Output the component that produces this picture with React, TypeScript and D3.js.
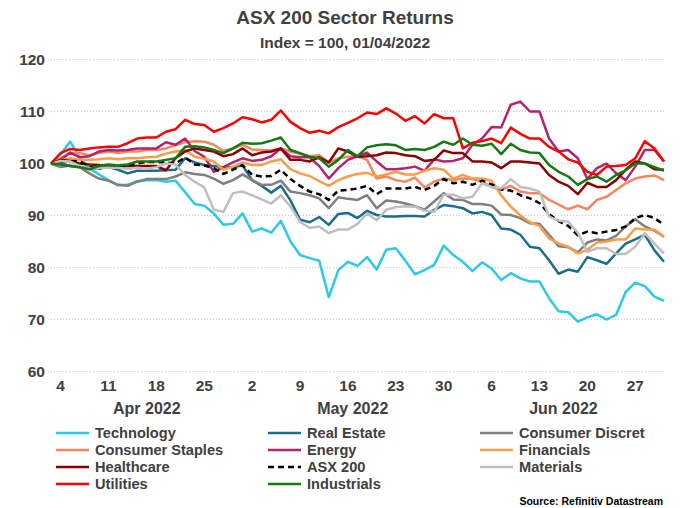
import React from "react";
import * as d3 from "d3";

const W = 691;
const H = 508;

// weekday categories 1 Apr 2022 - 30 Jun 2022
const startDate = new Date(2022, 3, 1);
const endDate = new Date(2022, 6, 1);
const dates: Date[] = d3.timeDays(startDate, endDate).filter((d) => d.getDay() !== 0 && d.getDay() !== 6);

const yTicks = [60, 70, 80, 90, 100, 110, 120];
const monthLabels = ["Apr 2022", "May 2022", "Jun 2022"];

const technology = [100, 101.8, 104.2, 101.2, 99.1, 97.9, 96.8, 95.8, 95.9, 96.6, 96.8, 96.8, 96.5, 96.7, 94.5, 92.2, 91.9, 90.4, 88.2, 88.4, 90.4, 86.9, 87.5, 86.7, 89.0, 85.0, 82.4, 81.8, 81.3, 74.3, 79.5, 81.1, 80.3, 82.0, 79.6, 83.4, 83.7, 81.3, 78.7, 79.5, 80.5, 84.2, 82.4, 81.1, 79.3, 81.0, 79.8, 77.6, 78.9, 77.9, 77.3, 77.3, 74.1, 71.6, 71.4, 69.6, 70.4, 71.0, 70.0, 70.9, 75.3, 77.1, 76.4, 74.4, 73.6];
const realEstate = [100, 100.1, 99.5, 99.3, 99.1, 99.1, 99.3, 98.8, 98.1, 98.6, 98.6, 98.6, 98.7, 98.8, 101.0, 100.2, 99.7, 99.5, 99.3, 99.3, 99.6, 96.8, 95.7, 94.4, 95.7, 92.9, 89.2, 88.7, 89.7, 88.2, 90.3, 90.5, 89.5, 90.9, 90.1, 89.8, 89.8, 89.9, 89.9, 89.8, 91.1, 92.0, 91.8, 91.4, 90.4, 90.7, 90.1, 87.5, 87.3, 86.3, 84.0, 83.7, 81.4, 78.8, 79.6, 79.2, 82.0, 81.4, 80.7, 82.7, 84.6, 85.4, 86.3, 83.3, 81.1];
const consumerDiscret = [100, 99.3, 99.6, 99.3, 98.1, 97.1, 96.7, 95.9, 95.7, 96.5, 97.0, 97.0, 97.0, 97.5, 98.3, 98.0, 97.8, 97.1, 96.1, 96.8, 97.9, 96.8, 95.9, 95.9, 96.7, 94.6, 94.3, 93.9, 93.3, 91.4, 93.5, 93.2, 93.0, 93.9, 91.4, 92.9, 92.7, 92.3, 91.8, 91.1, 92.7, 94.3, 93.1, 93.0, 92.2, 92.2, 91.9, 90.2, 90.1, 89.5, 88.5, 88.4, 86.3, 84.1, 83.9, 82.9, 84.8, 85.4, 85.2, 86.1, 87.9, 89.3, 87.9, 87.1, 85.9];
const consumerStaples = [100, 101.0, 102.0, 102.0, 101.6, 102.0, 102.3, 102.0, 102.3, 102.3, 102.6, 102.6, 102.9, 103.5, 104.1, 104.3, 104.2, 103.6, 102.4, 102.9, 103.6, 102.7, 102.6, 102.5, 102.9, 102.3, 101.8, 101.4, 101.6, 100.2, 101.0, 101.3, 101.4, 100.7, 97.1, 97.5, 96.8, 96.5, 97.3, 95.4, 96.5, 97.1, 96.8, 97.1, 97.0, 96.5, 95.5, 94.9, 95.7, 94.6, 94.3, 94.3, 93.0, 92.1, 91.2, 91.9, 91.2, 93.0, 93.6, 94.9, 96.2, 97.1, 97.5, 97.7, 96.8];
const energy = [100, 100.7, 102.1, 101.2, 101.4, 102.3, 102.6, 102.5, 102.6, 102.9, 102.9, 102.9, 104.1, 103.6, 104.8, 102.4, 101.3, 98.4, 99.3, 100.2, 101.0, 100.5, 100.7, 101.4, 102.9, 101.4, 101.2, 101.2, 99.5, 97.1, 99.1, 100.7, 101.4, 102.1, 100.4, 98.9, 98.9, 99.1, 99.4, 98.6, 100.8, 100.4, 100.5, 101.0, 103.6, 104.8, 107.0, 106.9, 111.3, 111.9, 110.0, 110.0, 104.8, 102.3, 102.6, 101.0, 97.0, 99.1, 100.0, 98.1, 96.8, 99.4, 102.6, 102.6, 100.4];
const financials = [100, 100.7, 101.0, 100.7, 100.7, 100.8, 101.0, 100.8, 101.0, 101.0, 101.2, 101.3, 101.9, 102.3, 102.6, 101.3, 100.9, 100.4, 98.8, 99.4, 100.2, 99.7, 99.7, 100.4, 100.8, 98.9, 98.1, 97.6, 96.6, 95.7, 96.8, 97.5, 98.0, 98.2, 97.5, 97.9, 98.4, 97.9, 97.9, 98.6, 99.1, 98.8, 97.1, 97.8, 97.1, 97.1, 96.7, 93.9, 91.7, 90.0, 88.7, 88.0, 85.6, 84.6, 84.0, 82.7, 83.4, 84.8, 85.0, 85.4, 85.4, 87.5, 87.3, 87.3, 85.9];
const healthcare = [100, 100.7, 100.5, 100.0, 99.8, 99.7, 99.4, 99.3, 99.5, 99.5, 99.5, 99.5, 98.7, 101.0, 102.3, 102.9, 102.6, 102.3, 101.4, 101.8, 102.9, 101.6, 102.1, 102.3, 102.9, 100.7, 100.7, 100.4, 101.2, 100.2, 102.9, 102.3, 101.3, 101.4, 101.6, 102.1, 102.0, 101.6, 101.4, 100.5, 100.7, 102.5, 102.0, 102.0, 100.4, 100.4, 100.2, 99.1, 100.4, 100.4, 100.2, 100.0, 97.8, 96.5, 95.7, 94.1, 96.3, 95.5, 95.5, 96.8, 98.8, 100.4, 100.0, 98.9, 98.8];
const asx200 = [100, 100.4, 100.5, 100.4, 99.4, 99.0, 99.4, 99.2, 99.6, 100.0, 100.3, 100.3, 100.2, 100.0, 101.2, 99.8, 99.6, 99.1, 98.0, 98.8, 99.7, 97.8, 97.5, 97.6, 98.8, 97.0, 95.7, 94.6, 94.1, 93.0, 94.8, 94.9, 95.2, 95.7, 94.1, 95.2, 95.2, 95.2, 95.5, 94.9, 95.7, 97.0, 96.2, 96.5, 95.9, 96.7, 96.0, 95.0, 94.8, 93.9, 93.3, 92.4, 90.3, 88.9, 88.0, 86.2, 86.9, 86.6, 86.9, 87.2, 87.9, 89.5, 90.1, 89.5, 88.2];
const materials = [100, 100.5, 100.4, 99.5, 99.1, 99.2, 99.2, 99.2, 99.0, 99.2, 99.0, 99.3, 100.0, 99.8, 97.8, 96.5, 95.4, 91.1, 90.7, 94.3, 94.6, 93.9, 93.1, 92.3, 93.9, 91.7, 88.8, 87.6, 87.9, 86.6, 87.3, 87.3, 88.4, 90.4, 89.1, 91.1, 91.6, 91.8, 91.7, 90.9, 90.7, 94.0, 94.0, 93.3, 93.6, 96.2, 95.5, 95.2, 97.0, 95.5, 95.2, 94.6, 89.8, 89.0, 88.8, 86.7, 83.0, 83.7, 83.7, 82.6, 82.6, 84.0, 86.6, 84.6, 82.7];
const utilities = [100, 102.0, 102.8, 102.6, 102.9, 103.1, 103.2, 103.2, 103.9, 104.8, 105.0, 105.0, 106.1, 106.6, 108.4, 107.6, 107.4, 106.1, 106.8, 107.7, 108.9, 108.5, 107.9, 108.4, 110.2, 108.0, 106.8, 105.9, 106.3, 105.8, 107.0, 107.8, 108.7, 109.8, 109.5, 110.6, 109.6, 108.2, 109.1, 107.7, 109.5, 108.7, 108.7, 102.9, 104.0, 104.3, 104.8, 103.9, 106.9, 105.7, 104.8, 104.8, 103.2, 102.3, 100.8, 100.2, 98.4, 97.8, 99.4, 99.5, 99.7, 101.0, 104.3, 102.9, 100.4];
const industrials = [100, 99.8, 99.5, 99.3, 98.9, 99.5, 99.8, 99.6, 99.8, 100.4, 100.4, 100.4, 100.7, 101.0, 103.2, 103.3, 103.1, 102.6, 102.0, 102.9, 104.0, 103.8, 103.9, 104.4, 105.0, 102.6, 102.0, 101.3, 101.0, 99.4, 100.7, 102.6, 101.4, 103.1, 103.5, 103.7, 103.5, 102.6, 102.8, 102.6, 103.2, 104.2, 103.6, 104.8, 103.6, 103.4, 103.8, 101.8, 103.8, 102.6, 102.1, 102.0, 99.7, 98.4, 97.5, 95.9, 97.0, 97.5, 96.5, 97.8, 98.7, 100.0, 100.0, 99.3, 98.6];

const seriesNames = ["Technology", "Real Estate", "Consumer Discret", "Consumer Staples", "Energy", "Financials", "Healthcare", "ASX 200", "Materials", "Utilities", "Industrials"];
const seriesValues = [technology, realEstate, consumerDiscret, consumerStaples, energy, financials, healthcare, asx200, materials, utilities, industrials];
const seriesColors = ["#2CC9E8", "#1A6E8C", "#7F7F7F", "#F7855F", "#B3246E", "#FA9D47", "#8B0000", "#000000", "#BFBFBF", "#FF0000", "#127A12"];

const FONT = "'Liberation Sans', Arial, sans-serif";
const TXT = "#404040";

export default function App() {
  const x = d3.scalePoint<number>().domain(dates.map((_, i) => i)).range([51, 664]);
  const y = d3.scaleLinear().domain([60, 120]).range([371.5, 59.5]);
  const line = d3
    .line<number>()
    .x((_, i) => x(i) as number)
    .y((v) => y(v));

  const mondays = dates.map((d, i) => ({ d, i })).filter((o) => o.d.getDay() === 1);
  const months = [3, 4, 5].map((m, k) => {
    const idx = dates.map((d, i) => ({ d, i })).filter((o) => o.d.getMonth() === m);
    const a = x(idx[0].i) as number;
    const b = x(idx[idx.length - 1].i) as number;
    return { label: monthLabels[k], cx: (a + b) / 2 };
  });

  const legendCols = [56, 268, 480];
  const legendRows = [433, 450, 467, 484];

  return (
    <svg width={W} height={H} style={{ position: "absolute", left: 0, top: 0, background: "#fff" }} fontFamily={FONT}>
      <rect width={W} height={H} fill="#fff" />
      <text x={345} y={24} textAnchor="middle" fontSize={19} fontWeight="bold" fill={TXT}>
        ASX 200 Sector Returns
      </text>
      <text x={345} y={48} textAnchor="middle" fontSize={15.5} fontWeight="bold" fill={TXT}>
        Index = 100, 01/04/2022
      </text>
      {yTicks.map((t) => (
        <g key={t}>
          <line x1={51} x2={664} y1={y(t)} y2={y(t)} stroke="#C8C8C8" strokeWidth={1} strokeDasharray="1,2" />
          <text x={45} y={y(t) + 5.5} textAnchor="end" fontSize={15.5} fontWeight="bold" fill={TXT}>
            {t}
          </text>
        </g>
      ))}
      {mondays.map((o) => (
        <text key={o.i} x={x(o.i)} y={391} textAnchor="middle" fontSize={15.5} fontWeight="bold" fill={TXT}>
          {o.d.getDate()}
        </text>
      ))}
      {months.map((m) => (
        <text key={m.label} x={m.cx} y={414} textAnchor="middle" fontSize={16} fontWeight="bold" fill={TXT}>
          {m.label}
        </text>
      ))}
      {seriesValues.map((vals, k) => (
        <path
          key={seriesNames[k]}
          d={line(vals) || ""}
          fill="none"
          stroke={seriesColors[k]}
          strokeWidth={2.5}
          strokeDasharray={seriesNames[k] === "ASX 200" ? "6,4" : undefined}
          strokeLinejoin="round"
        />
      ))}
      {seriesNames.map((n, k) => {
        const cx = legendCols[k % 3];
        const cy = legendRows[Math.floor(k / 3)];
        return (
          <g key={n}>
            <line
              x1={cx}
              x2={cx + 33}
              y1={cy}
              y2={cy}
              stroke={seriesColors[k]}
              strokeWidth={2.5}
              strokeDasharray={n === "ASX 200" ? "6,4" : undefined}
            />
            <text x={cx + 39} y={cy + 5} fontSize={14.6} fontWeight="bold" fill={TXT}>
              {n}
            </text>
          </g>
        );
      })}
      <text x={663} y={505} textAnchor="end" fontSize={10.5} fontWeight="bold" fill="#000">
        Source: Refinitiv Datastream
      </text>
    </svg>
  );
}
